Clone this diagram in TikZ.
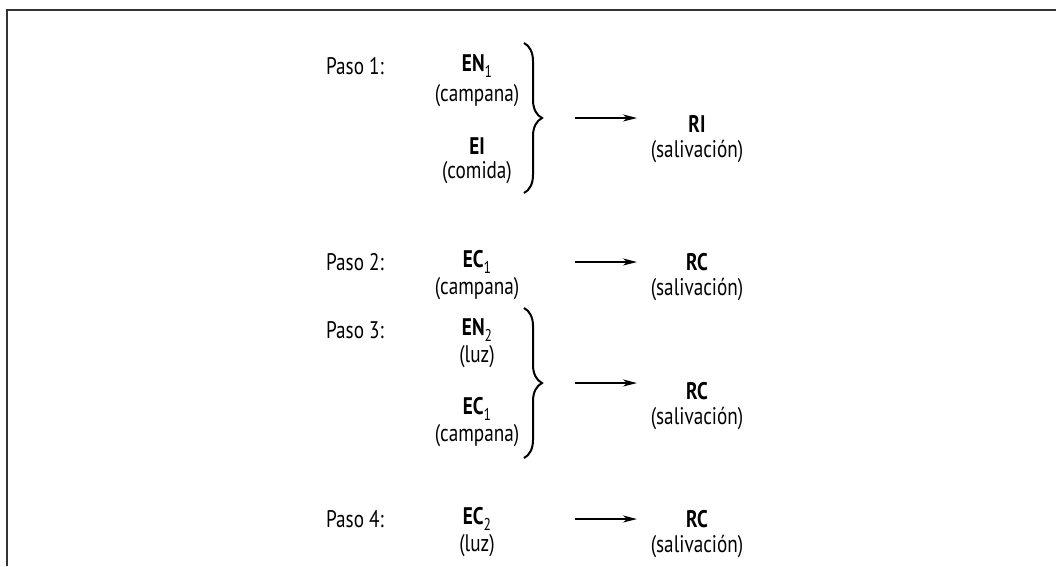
\documentclass[tikz,border=0pt]{standalone}
\usepackage{fontspec}
\setmainfont{PT Sans}[FakeStretch=0.8]
\usepackage{tikz}
\usetikzlibrary{positioning, arrows.meta, decorations.pathreplacing}
\tikzset{
>={Stealth[length=14pt,width=7pt,inset=4pt]}, % thin filled heads
node distance=27pt, % distance between a name and its description
}
\newcommand{\ix}[1]{\raisebox{-0.22em}{\mdseries\fontsize{17}{17}\selectfont #1}}

\begin{document}
\begin{tikzpicture}[x=1pt,y=-1pt,on grid,
paso/.style={font=\fontsize{24}{26}\selectfont},
cue/.style={font=\fontsize{24}{26}\selectfont\bfseries,inner sep=1pt},
desc/.style={font=\fontsize{24}{26}\selectfont,inner sep=1pt},
brc/.style={line width=2pt,decorate,decoration={brace,amplitude=18pt}},
arr/.style={->,line width=1.2pt}]
\useasboundingbox (0,0) rectangle (1056,566);
\draw[line width=2pt,black!80] (7,566) -- (7,10) -- (1056,10);

% Paso 1
\node[paso] (p1) at (355,66) {Paso 1:};
\node[cue] (en1) at (477,66) {EN\ix{1}};
\node[desc] (cam1) [below=of en1,yshift=-3pt] {(campana)};
\node[cue] (ei) at (477,146) {EI};
\node[desc] (com) [below=of ei] {(comida)};
\draw[brc] (524,43) -- (524,193);
\coordinate (s1) at (575,118);
\coordinate (e1) at (637,118);
\draw[arr] (s1) -- (e1);
\node[cue] (ri) at (697,124) {RI};
\node[desc] (sal1) [below=of ri] {(salivación)};

% Paso 2
\node[paso] (p2) at (355,262) {Paso 2:};
\node[cue] (ec1) at (477,262) {EC\ix{1}};
\node[desc] (cam2) [below=of ec1] {(campana)};
\coordinate (s2) at (575,262);
\coordinate (e2) at (637,262);
\draw[arr] (s2) -- (e2);
\node[cue] (rc2) at (697,262) {RC};
\node[desc] (sal2) [below=of rc2] {(salivación)};

% Paso 3
\node[paso] (p3) at (355,330) {Paso 3:};
\node[cue] (en2) at (477,330) {EN\ix{2}};
\node[desc] (luz1) [below=of en2] {(luz)};
\node[cue] (ec1b) at (477,409) {EC\ix{1}};
\node[desc] (cam3) [below=of ec1b] {(campana)};
\draw[brc] (524,308) -- (524,458);
\coordinate (s3) at (575,383);
\coordinate (e3) at (637,383);
\draw[arr] (s3) -- (e3);
\node[cue] (rc3) at (697,391) {RC};
\node[desc] (sal3) [below=of rc3] {(salivación)};

% Paso 4
\node[paso] (p4) at (355,519) {Paso 4:};
\node[cue] (ec2) at (477,519) {EC\ix{2}};
\node[desc] (luz2) [below=of ec2] {(luz)};
\coordinate (s4) at (575,519);
\coordinate (e4) at (637,519);
\draw[arr] (s4) -- (e4);
\node[cue] (rc4) at (697,519) {RC};
\node[desc] (sal4) [below=of rc4] {(salivación)};
\end{tikzpicture}
\end{document}
